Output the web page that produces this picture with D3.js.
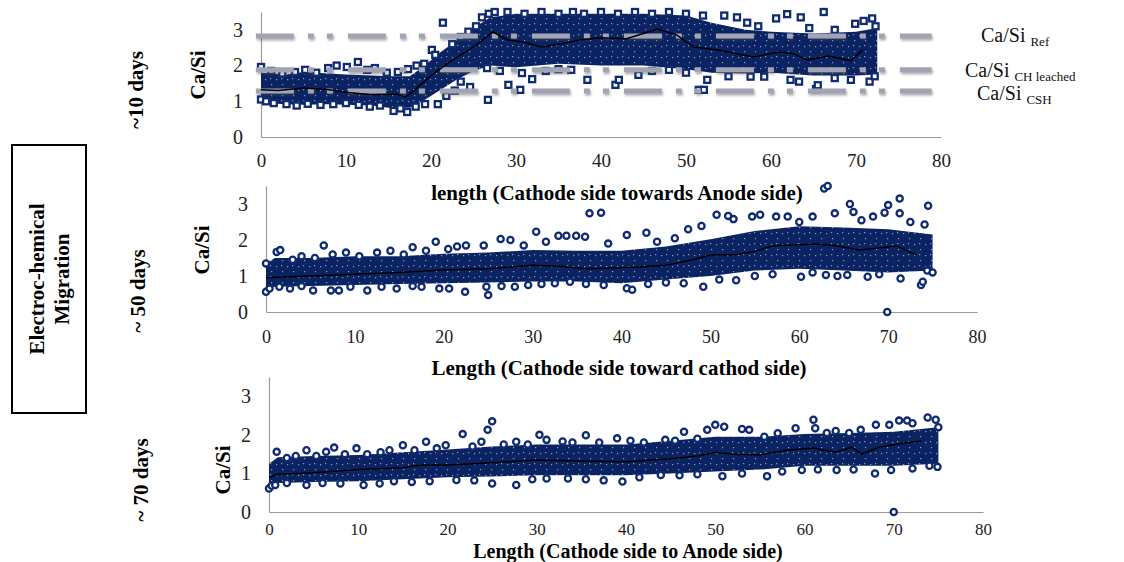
<!DOCTYPE html>
<html>
<head>
<meta charset="utf-8">
<script src="https://cdn.jsdelivr.net/npm/d3@7"></script>
<style>
  body { margin: 0; background: #fff; }
  text { font-family: "Liberation Serif", "Times New Roman", serif; }
</style>
</head>
<body>
<script>
// ---- data ----
// x = length, v = Ca/Si

// reference levels (panel 1)
const refNames = ["Ref", "CH leached", "CSH"];
const refValues = [2.83, 1.88, 1.29];
const refSpan = [-0.6, 78.9];

// dense core of the clouds: [x, low, high]
const p1Band = [[0,0.95,1.8],[3,0.92,1.75],[5,0.9,1.82],[8,0.92,1.78],[10,0.9,1.75],[13,0.88,1.72],[15,0.82,1.7],[17.5,0.82,1.7],[19,1.0,1.95],[21,1.3,2.35],[23,1.6,2.7],[25,1.85,3.05],[27,2.0,3.35],[30,1.95,3.45],[35,2.05,3.45],[40,2.0,3.45],[45,2.0,3.45],[50,1.9,3.4],[53,1.8,3.2],[57,1.78,3.0],[60,1.8,2.95],[65,1.72,2.9],[70,1.72,2.95],[72.5,1.75,3.05]];
const p2Band = [[0,0.65,1.35],[1,0.7,1.5],[5,0.72,1.5],[10,0.75,1.55],[15,0.78,1.55],[20,0.8,1.62],[25,0.82,1.65],[30,0.85,1.72],[35,0.85,1.7],[40,0.8,1.7],[45,0.9,1.82],[50,1.0,2.02],[55,1.15,2.25],[60,1.2,2.38],[65,1.15,2.35],[70,1.1,2.3],[75,1.15,2.15]];
const p3Band = [[0,0.65,1.25],[1,0.75,1.42],[5,0.78,1.45],[10,0.8,1.48],[15,0.85,1.55],[20,0.9,1.62],[25,0.92,1.7],[30,0.95,1.75],[35,0.95,1.75],[40,0.95,1.75],[45,1.0,1.85],[50,1.05,1.95],[55,1.1,1.95],[60,1.2,2.02],[65,1.2,2.05],[70,1.2,2.08],[75,1.25,2.2]];

// individual points around the cores
const p1Points = [[0,1.96],[1.2,1.85],[2.5,1.78],[4,1.82],[5.2,1.88],[6.5,1.8],[7.9,1.93],[8.9,2.0],[10.1,1.96],[11.4,2.1],[12.5,1.88],[13.4,1.93],[14.8,1.8],[16.1,1.82],[17.3,1.9],[18.3,2.0],[19.2,2.05],[20.1,2.44],[20.5,2.3],[21.4,3.2],
  [0,1.05],[0.6,1.0],[1.5,0.95],[3,0.92],[4.2,0.88],[5.5,0.93],[7,0.9],[8.5,0.92],[10,0.95],[11.5,0.9],[12.8,0.85],[14,0.88],[15.6,0.73],[16.4,0.8],[17.2,0.7],[18.2,0.85],[19.3,0.92],[20.8,0.92],
  [21.8,1.15],[22.8,1.3],[24.6,1.4],[26.7,1.04],[23.5,1.55],
  [22.5,2.6],[23.5,2.8],[24.4,2.95],[25.3,3.1],[26,3.35],[26.8,3.45],[27.5,3.5],
  [26.6,1.93],[28.1,1.85],[29.1,1.46],[30.5,1.32],[30.7,1.79],[31.9,1.62],[33.5,1.85],[35,1.9],[36.5,1.88],[38.4,1.6],
  [41.7,1.46],[42.1,1.6],[44.4,1.74],[46,1.85],[48,1.88],[50,1.8],[51.5,1.32],[52.1,1.32],[52.5,1.6],[55,1.7],[57.6,1.69],[59.2,1.69],[62.3,1.6],[63.3,1.55],[65.3,1.34],[65.5,1.45],[67.5,1.65],[69.4,1.6],[71.6,1.55],[72.2,1.7],
  [29,3.5],[31,3.45],[33,3.5],[35,3.45],[36.7,3.5],[38,3.45],[40,3.5],[42,3.45],[44,3.5],[46,3.45],[48,3.5],[50,3.45],[52,3.4],[54.5,3.4],[56,3.35],[57.2,3.2],[58.5,3.1],[60.6,3.32],[61.9,3.44],[63.5,3.35],[64.5,3.05],[66.2,3.5],[67.5,3.0],[69.9,3.17],[70.9,3.25],[71.9,3.32],[72.3,3.1]];

const p2Points = [[0,1.35],[1.2,1.67],[1.6,1.72],[3,1.45],[4,1.55],[5.5,1.5],[6.5,1.85],[7.5,1.6],[9,1.65],[10.5,1.55],[12.5,1.65],[14,1.7],[15.5,1.6],[16.5,1.8],[18,1.7],[19.1,1.95],[20.5,1.75],[21.5,1.82],[22.5,1.85],[24.5,1.85],[26.4,2.03],[27.5,2.0],[29,1.85],[30.4,2.23],[31.5,1.95],[32.9,2.12],[33.8,2.12],[34.9,2.12],[35.9,2.09],[36.4,2.74],[37.7,2.76],[38.5,1.9],[40.6,2.14],[42.8,2.2],[44,1.95],[46,2.05],[47.5,2.3],[49,2.39],[50.7,2.7],[52,2.67],[52.6,2.58],[54.7,2.65],[55.6,2.7],[57.4,2.65],[58.7,2.65],[60,2.5],[61.5,2.65],[62.8,3.43],[63.2,3.5],[64,2.74],[65.7,3.0],[66.1,2.78],[67,2.55],[68.3,2.65],[69.6,2.76],[70,2.97],[71.3,3.15],[71.3,2.74],[72.5,2.5],[74.1,2.43],[74.5,2.95],
  [0,0.56],[0.4,0.65],[1.5,0.7],[2.7,0.65],[4,0.72],[5.3,0.6],[7.3,0.6],[8.2,0.6],[9.5,0.7],[11.4,0.6],[13,0.7],[14.7,0.65],[16.5,0.72],[17.5,0.7],[19.5,0.65],[20.6,0.65],[22.4,0.56],[24.8,0.7],[25,0.47],[26.5,0.72],[28,0.7],[29.5,0.75],[31,0.78],[32.5,0.8],[34.2,0.84],[36,0.78],[38,0.75],[40.6,0.66],[41.2,0.62],[43,0.78],[45,0.82],[47,0.8],[49.2,0.7],[51,0.9],[52.9,0.88],[55,1.0],[57,1.05],[60.2,0.98],[61.5,1.1],[63,1.03],[64.3,1.0],[65.4,1.03],[67.7,0.98],[69,1.05],[69.9,0.0],[71.4,0.93],[73.7,0.75],[73.9,0.84],[74.4,1.15],[75,1.1]];

const p3Points = [[0.86,1.56],[2,1.4],[3,1.45],[4.2,1.6],[5.3,1.45],[6.4,1.56],[7.3,1.67],[8.5,1.5],[9.8,1.65],[11,1.5],[12.5,1.55],[13.5,1.6],[15,1.73],[16.3,1.6],[17.6,1.82],[18.8,1.65],[19.8,1.73],[21.7,2.02],[22.8,1.7],[23.8,1.82],[24.5,2.13],[25,2.35],[26.3,1.75],[27.7,1.82],[29,1.75],[30.3,2.0],[31.1,1.87],[32.9,1.83],[34,1.8],[35.5,1.99],[37,1.8],[39,1.91],[40.5,1.85],[42,1.8],[44.4,1.87],[45.5,1.85],[46.5,2.08],[48,1.9],[49.1,2.13],[50,2.26],[51,2.21],[53,2.15],[53.8,2.13],[55.5,1.95],[57,2.04],[59,2.17],[61,2.39],[61.2,2.17],[62.5,2.05],[63.5,2.1],[65,2.05],[66.3,2.13],[68,2.26],[69.5,2.26],[70.6,2.37],[71.5,2.37],[72.1,2.3],[73.8,2.45],[74.7,2.39],[75,2.2],
  [0,0.61],[0.3,0.68],[0.7,0.7],[2,0.75],[4.2,0.7],[6,0.75],[8,0.74],[10.6,0.7],[12.4,0.74],[14,0.8],[16,0.78],[18,0.8],[21,0.83],[23,0.82],[25,0.74],[27.7,0.7],[29.5,0.85],[31.1,0.87],[33.5,0.87],[35.5,0.85],[37.5,0.82],[39.6,0.79],[41.5,0.9],[43.9,0.96],[46,0.95],[48,0.98],[50.8,0.93],[53,1.0],[55.8,0.93],[57.5,1.05],[59.7,1.09],[61.5,1.1],[63.6,1.09],[65.5,1.1],[67.9,1.0],[69.7,1.09],[70,0.0],[72.1,1.13],[74,1.2],[74.9,1.17]];

// moving average lines
const p1Trend = [[0,1.32],[2,1.3],[5,1.37],[8,1.32],[10,1.25],[13,1.18],[16,1.2],[17,1.12],[18,1.3],[20,1.72],[22,2.07],[25,2.52],[27.3,2.94],[29,2.72],[31,2.65],[33,2.52],[35.5,2.62],[37.6,2.72],[40,2.78],[43,2.75],[45,2.9],[46.6,3.02],[48.9,2.86],[50.9,2.52],[53.6,2.44],[57.9,2.24],[61,2.38],[62.5,2.34],[64.3,2.16],[66.7,2.27],[69.4,2.14],[70.8,2.44]];
const p2Trend = [[0,0.95],[5,1.0],[10,1.05],[15,1.1],[20,1.17],[25,1.2],[30,1.3],[33,1.27],[36,1.2],[39,1.22],[42,1.25],[45,1.3],[48,1.45],[50,1.58],[53,1.6],[55,1.68],[57,1.84],[60,1.87],[62,1.89],[64,1.85],[66.8,1.72],[69,1.78],[71,1.83],[73.2,1.58]];
const p3Trend = [[0,0.9],[1,0.98],[5,1.02],[10,1.1],[15,1.15],[17,1.22],[20,1.22],[25,1.28],[30,1.35],[35,1.32],[40,1.3],[45,1.38],[48,1.45],[50,1.55],[52,1.5],[55,1.48],[58,1.6],[61,1.66],[63.5,1.55],[65.3,1.68],[66.4,1.5],[68.3,1.68],[71,1.78],[73.1,1.84]];

const xTicks = [0,10,20,30,40,50,60,70,80];
const yTicks = [0,1,2,3];
const dayLabels = ["~10 days", "~ 50 days", "~ 70 days"];
const xTitles = ["length (Cathode side towards Anode side)", "Length (Cathode side toward cathod side)", "Length (Cathode side to Anode side)"];

// ---- layout ----
const W = 1124, H = 562;
const navy = "#0a2463";
const panels = [
  { left: 261, right: 941, bottom: 137, top: 12, band: p1Band, pts: p1Points, trend: p1Trend, shape: "square",
    yLab: [198, 75], day: [136, 90], title: [617, 200], titleSize: 21, tickPad: 17, tickSize: 19, tickFont: "Liberation Serif, serif" },
  { left: 266, right: 977, bottom: 312, top: 186, band: p2Band, pts: p2Points, trend: p2Trend, shape: "circle",
    yLab: [202, 250], day: [138, 291], title: [619, 375], titleSize: 21, tickPad: 18, tickSize: 18, tickFont: "Lato, sans-serif" },
  { left: 269, right: 983, bottom: 512, top: 377, band: p3Band, pts: p3Points, trend: p3Trend, shape: "circle",
    yLab: [223, 470], day: [141, 480], title: [628, 558], titleSize: 20, tickPad: 11, tickSize: 17, tickFont: "Lato, sans-serif" }
];

const svg = d3.select("body").append("svg")
  .attr("width", W).attr("height", H);

const defs = svg.append("defs");
// speckled fill so the dense core looks like piled-up hollow markers
const pat = defs.append("pattern").attr("id", "speck")
  .attr("width", 11).attr("height", 11).attr("patternUnits", "userSpaceOnUse");
pat.append("rect").attr("width", 11).attr("height", 11).attr("fill", navy);
[[1,2],[7,7],[6,1]].forEach(p => {
  pat.append("rect").attr("x", p[0]).attr("y", p[1]).attr("width", 1.2).attr("height", 1.2)
    .attr("fill", "#fff").attr("opacity", 0.55);
});
const shadow = defs.append("filter").attr("id", "shadow")
  .attr("filterUnits", "userSpaceOnUse")
  .attr("x", 0).attr("y", 0).attr("width", W).attr("height", 200);
shadow.append("feDropShadow").attr("dx", 1).attr("dy", 2).attr("stdDeviation", 1.3)
  .attr("flood-color", "#444").attr("flood-opacity", 0.45);

panels.forEach((p, i) => {
  const x = d3.scaleLinear().domain([0, 80]).range([p.left, p.right]);
  const y = d3.scaleLinear().domain([0, 3.5]).range([p.bottom, p.top]);

  // axes
  const gx = svg.append("g").attr("transform", `translate(0,${p.bottom})`)
    .call(d3.axisBottom(x).tickValues(xTicks).tickSize(0).tickPadding(p.tickPad));
  const gy = svg.append("g").attr("transform", `translate(${p.left},0)`)
    .call(d3.axisLeft(y).tickValues(yTicks).tickFormat(d3.format("d")).tickSize(0).tickPadding(18));
  [gx, gy].forEach(g => {
    g.select(".domain").attr("stroke", "#9a9a9a").attr("stroke-width", 1.2);
    g.selectAll("text").attr("fill", "#222");
  });
  gx.selectAll("text").attr("font-size", p.tickSize).attr("font-family", p.tickFont);
  gy.selectAll("text").attr("font-size", 20).attr("font-family", "Liberation Serif, serif");

  // dense core
  svg.append("path").datum(p.band)
    .attr("fill", "url(#speck)")
    .attr("d", d3.area().x(d => x(d[0])).y0(d => y(d[1])).y1(d => y(d[2])));

  // single markers
  const g = svg.append("g").attr("fill", "#fff").attr("stroke", "#102b72").attr("stroke-width", 2.3);
  if (p.shape === "square") {
    g.selectAll("rect").data(p.pts).enter().append("rect")
      .attr("x", d => x(d[0]) - 3).attr("y", d => y(d[1]) - 3)
      .attr("width", 6).attr("height", 6);
  } else {
    g.selectAll("circle").data(p.pts).enter().append("circle")
      .attr("cx", d => x(d[0])).attr("cy", d => y(d[1])).attr("r", 3.1);
  }

  // reference levels only on the first panel
  if (i === 0) {
    svg.append("g").selectAll("line").data(refValues).enter().append("line")
      .attr("x1", x(refSpan[0])).attr("x2", x(refSpan[1]))
      .attr("y1", d => y(d)).attr("y2", d => y(d))
      .attr("stroke", "#a3a3b6").attr("stroke-width", 5)
      .attr("stroke-dasharray", "38,14,6,13,6,15")
      .attr("filter", "url(#shadow)");
  }

  // moving average
  svg.append("path").datum(p.trend)
    .attr("fill", "none").attr("stroke", "#000").attr("stroke-width", 1.5)
    .attr("d", d3.line().x(d => x(d[0])).y(d => y(d[1])));

  // y title
  svg.append("text").attr("transform", `translate(${p.yLab[0]},${p.yLab[1]}) rotate(-90)`)
    .attr("text-anchor", "middle").attr("dominant-baseline", "central")
    .attr("font-size", 21).attr("font-weight", "bold").text("Ca/Si");

  // days label
  svg.append("text").attr("transform", `translate(${p.day[0]},${p.day[1]}) rotate(-90)`)
    .attr("text-anchor", "middle").attr("dominant-baseline", "central")
    .attr("font-size", 21).attr("font-weight", "bold").text(dayLabels[i]);

  // x title
  svg.append("text").attr("x", p.title[0]).attr("y", p.title[1])
    .attr("text-anchor", "middle").attr("font-size", p.titleSize).attr("font-weight", "bold")
    .text(xTitles[i]);
});

// labels for the reference levels
const refLabelPos = [[981, 42], [965, 77], [977, 100]];
refNames.forEach((n, i) => {
  const t = svg.append("text").attr("x", refLabelPos[i][0]).attr("y", refLabelPos[i][1])
    .attr("font-size", 20).attr("fill", "#111");
  t.append("tspan").text("Ca/Si ");
  t.append("tspan").attr("font-size", 13).attr("dy", 4).text(n);
});

// side box
svg.append("rect").attr("x", 12).attr("y", 145).attr("width", 74).attr("height", 268)
  .attr("fill", "none").attr("stroke", "#000").attr("stroke-width", 2);
[["Electroc-hemical", 37], ["Migration", 62]].forEach(d => {
  svg.append("text").attr("transform", `translate(${d[1]},279) rotate(-90)`)
    .attr("text-anchor", "middle").attr("dominant-baseline", "central")
    .attr("font-size", 21).attr("font-weight", "bold").text(d[0]);
});
</script>
</body>
</html>
